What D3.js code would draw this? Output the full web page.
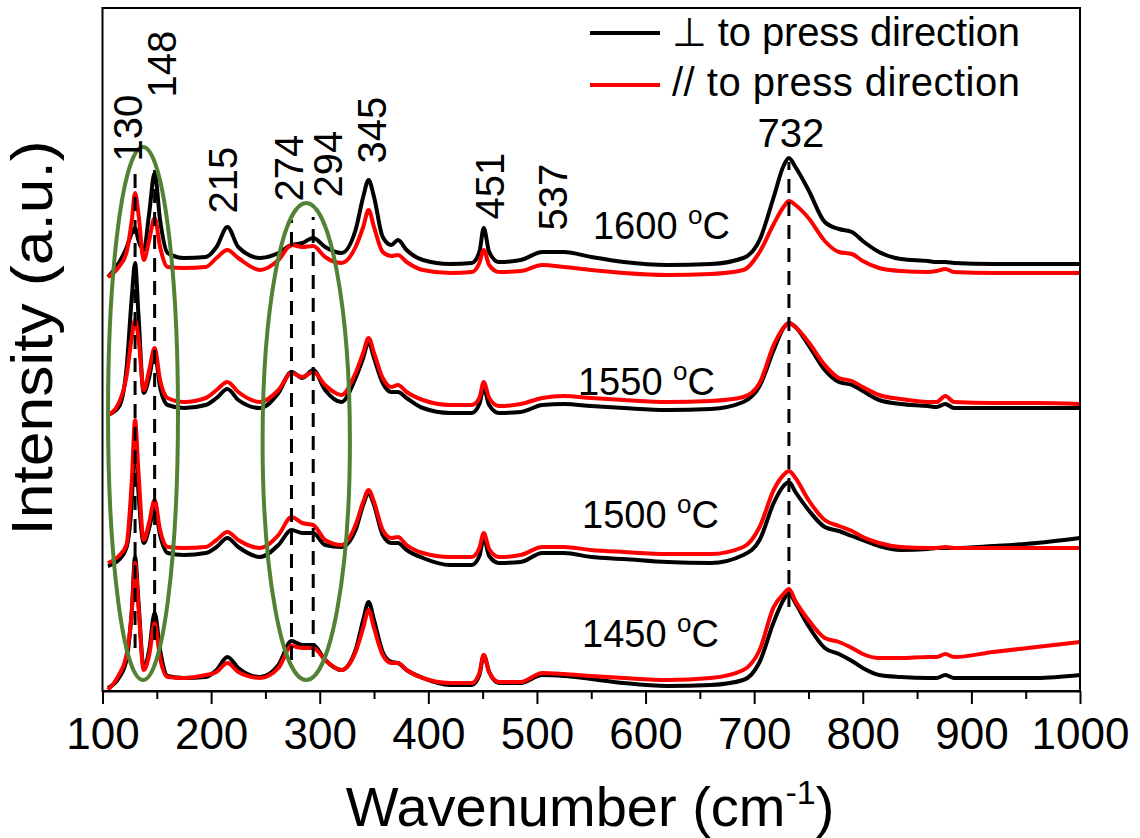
<!DOCTYPE html>
<html>
<head>
<meta charset="utf-8">
<script src="https://cdn.jsdelivr.net/npm/d3@7"></script>
<style>
  body { margin: 0; background: #fff; }
  text { font-family: "Liberation Sans", Arial, sans-serif; fill: #000; }
</style>
</head>
<body>
<div class="canva"></div>
<script>
// Raman shift grid (cm-1) shared by every spectrum
const wavenumber = [105, 115, 122, 127, 130, 133, 138, 143, 148, 153, 160, 175, 195, 205, 215, 225, 245, 262, 274, 284,
  294, 305, 320, 333, 340, 345, 350, 358, 366, 372, 380, 395, 420, 440, 447, 451, 456, 465, 485, 505,
  525, 550, 580, 620, 660, 690, 705, 718, 727, 732, 738, 750, 765, 778, 790, 800, 815, 835, 860, 868,
  876, 884, 920, 960, 1000];

// intensities (a.u., already offset per temperature), perpendicular = black, parallel = red
const perp1600 = [414, 428, 443, 458, 463, 451, 441, 478, 518, 471, 438, 433, 434, 444, 464, 444, 433, 438, 446, 448,
  453, 444, 438, 461, 494, 511, 494, 454, 446, 451, 441, 431, 427, 428, 439, 463, 439, 429, 431, 439,
  439, 434, 429, 426, 427, 433, 451, 494, 525, 533, 524, 501, 469, 462, 459, 450, 439, 432, 430, 429,
  429, 428, 427, 427, 427];
const para1600 = [414, 424, 438, 471, 498, 478, 431, 451, 473, 444, 424, 423, 424, 433, 441, 433, 421, 431, 446, 444,
  445, 434, 428, 444, 464, 481, 464, 439, 435, 436, 429, 421, 418, 419, 428, 441, 426, 419, 420, 426,
  424, 421, 418, 416, 417, 421, 439, 467, 484, 490, 486, 473, 450, 439, 437, 430, 423, 420, 419, 420,
  422, 419, 418, 418, 418];
const perp1550 = [276, 284, 321, 394, 428, 378, 298, 314, 338, 304, 286, 283, 286, 293, 302, 291, 283, 298, 319, 313,
  321, 301, 289, 313, 333, 349, 333, 308, 299, 299, 293, 283, 278, 278, 287, 303, 286, 278, 279, 286,
  287, 285, 283, 281, 282, 289, 305, 341, 363, 368, 364, 346, 321, 309, 306, 300, 291, 287, 285, 284,
  287, 283, 283, 283, 283];
const para1550 = [276, 288, 314, 354, 371, 354, 301, 321, 343, 311, 293, 289, 293, 301, 309, 299, 289, 301, 318, 314,
  319, 306, 296, 318, 338, 353, 338, 313, 304, 306, 299, 291, 286, 286, 293, 309, 293, 285, 287, 293,
  295, 293, 291, 289, 290, 294, 308, 346, 363, 368, 364, 349, 326, 313, 310, 304, 296, 292, 289, 289,
  295, 289, 288, 288, 287];
const perp1500 = [125, 131, 143, 191, 259, 201, 148, 163, 184, 156, 138, 136, 138, 144, 153, 144, 134, 146, 161, 158,
  158, 146, 144, 161, 186, 198, 186, 156, 148, 148, 141, 133, 126, 126, 135, 153, 135, 128, 129, 138,
  138, 134, 132, 129, 128, 136, 151, 188, 205, 209, 199, 181, 164, 160, 155, 151, 145, 141, 142, 143,
  143, 143, 145, 148, 153];
const para1500 = [128, 135, 146, 211, 271, 221, 151, 169, 191, 161, 144, 143, 144, 151, 159, 151, 143, 156, 174, 168,
  166, 151, 146, 166, 189, 201, 189, 161, 153, 154, 146, 138, 134, 134, 143, 158, 142, 134, 136, 144,
  144, 141, 139, 137, 137, 144, 164, 201, 216, 220, 213, 191, 171, 165, 160, 154, 148, 144, 143, 143,
  144, 143, 143, 143, 143];
const perp1450 = [3, 13, 31, 81, 134, 91, 23, 41, 78, 41, 15, 13, 14, 21, 34, 23, 14, 26, 50, 46,
  46, 31, 21, 41, 71, 89, 71, 39, 29, 28, 21, 13, 6, 6, 16, 36, 19, 8, 8, 16,
  15, 12, 8, 5, 6, 11, 29, 69, 91, 98, 88, 65, 43, 37, 30, 23, 16, 14, 13, 13,
  16, 13, 13, 13, 16];
const para1450 = [1, 16, 36, 79, 128, 86, 21, 36, 68, 33, 14, 13, 16, 19, 28, 19, 13, 23, 45, 43,
  43, 31, 21, 39, 63, 81, 63, 36, 28, 28, 21, 13, 8, 8, 18, 36, 19, 9, 9, 18,
  17, 15, 13, 11, 13, 21, 41, 84, 97, 102, 90, 71, 53, 49, 43, 37, 33, 33, 34, 34,
  37, 34, 39, 44, 49];

const temperatures = ["1600", "1550", "1500", "1450"];
const peakLabels = ["130", "148", "215", "274", "294", "345", "451", "537"];
const dashedPeaks = [130, 148, 274, 294, 732];
const xTicks = [100, 200, 300, 400, 500, 600, 700, 800, 900, 1000];
const xMinorTicks = [150, 250, 350, 450, 550, 650, 750, 850, 950];
const legendNames = ["\u22A5 to press direction", "// to press direction"];

// layout of annotations, in data units [wavenumber, a.u.]
const tempLabelPos = [[551.6, 452], [537.8, 296], [541.5, 163], [541.5, 44]];
const peakLabelPos = [[123.5, 563], [154.8, 627], [210.5, 511], [271.7, 523], [307.2, 527], [348.1, 561], [456.3, 505], [514.3, 494]];
const dashedSpan = [[43, 524], [51, 521], [31, 471], [34, 474], [84, 529]];
const circles = [[137.3, 32.2, 277.5, 266.5], [287.6, 40.2, 249.5, 238.5]];

const spectra = [
  {temp: temperatures[0], perp: perp1600, para: para1600},
  {temp: temperatures[1], perp: perp1550, para: para1550},
  {temp: temperatures[2], perp: perp1500, para: para1500},
  {temp: temperatures[3], perp: perp1450, para: para1450}
];

const svg = d3.select(".canva").append("svg")
    .attr("width", 1140)
    .attr("height", 838);

const x = d3.scaleLinear().domain([100, 1000]).range([102.5, 1080]);
const y = d3.scaleLinear().domain([0, 683]).range([691, 8]);

const line = d3.line()
    .x((d, i) => x(wavenumber[i]))
    .y(d => y(d))
    .curve(d3.curveMonotoneX);

// spectra
const plot = svg.append("g");
spectra.forEach(s => {
  plot.append("path").attr("d", line(s.perp))
      .attr("fill", "none").attr("stroke", "#000").attr("stroke-width", 4)
      .attr("stroke-linejoin", "round");
  plot.append("path").attr("d", line(s.para))
      .attr("fill", "none").attr("stroke", "#ff0000").attr("stroke-width", 4)
      .attr("stroke-linejoin", "round");
});

// dashed peak markers
svg.selectAll(".dash")
    .data(dashedPeaks)
    .enter().append("line")
    .attr("x1", d => x(d)).attr("x2", d => x(d))
    .attr("y1", (d, i) => y(dashedSpan[i][0]))
    .attr("y2", (d, i) => y(dashedSpan[i][1]))
    .attr("stroke", "#000").attr("stroke-width", 3)
    .attr("stroke-dasharray", "14,9");

// green ellipses
svg.selectAll(".circ")
    .data(circles)
    .enter().append("ellipse")
    .attr("cx", d => x(d[0]))
    .attr("rx", d => x(d[0] + d[1]) - x(d[0]))
    .attr("cy", d => y(d[2]))
    .attr("ry", d => y(0) - y(d[3]))
    .attr("fill", "none").attr("stroke", "#548235").attr("stroke-width", 4);

// frame
svg.append("rect")
    .attr("x", x(100)).attr("y", y(683))
    .attr("width", x(1000) - x(100)).attr("height", y(0) - y(683))
    .attr("fill", "none").attr("stroke", "#000").attr("stroke-width", 2);

// x axis
const xAxis = svg.append("g")
    .attr("transform", "translate(0," + y(0) + ")")
    .call(d3.axisBottom(x).tickValues(xTicks).tickFormat(d3.format("d"))
      .tickSize(13).tickPadding(14).tickSizeOuter(0));
xAxis.select(".domain").attr("stroke-width", 2);
xAxis.selectAll(".tick line").attr("stroke-width", 2);
xAxis.selectAll(".tick text").attr("font-size", 44).attr("font-family", "Liberation Sans, Arial, sans-serif");

const xMinor = svg.append("g")
    .attr("transform", "translate(0," + y(0) + ")")
    .call(d3.axisBottom(x).tickValues(xMinorTicks).tickSize(8).tickFormat("").tickSizeOuter(0));
xMinor.select(".domain").remove();
xMinor.selectAll(".tick line").attr("stroke-width", 2);

// axis titles
const xt = svg.append("text")
    .attr("x", 590).attr("y", 826)
    .attr("text-anchor", "middle")
    .attr("font-size", 56);
xt.append("tspan").text("Wavenumber (cm");
xt.append("tspan").attr("font-size", 34).attr("dy", -22).text("-1");
xt.append("tspan").attr("dy", 22).text(")");

svg.append("text")
    .attr("transform", "translate(52," + 338 + ") rotate(-90)")
    .attr("text-anchor", "middle")
    .attr("font-size", 58)
    .attr("textLength", 395)
    .attr("lengthAdjust", "spacingAndGlyphs")
    .text("Intensity (a.u.)");

// peak labels
svg.selectAll(".peak")
    .data(peakLabels)
    .enter().append("text")
    .attr("transform", (d, i) => "translate(" + x(peakLabelPos[i][0]) + "," + y(peakLabelPos[i][1]) + ") rotate(-90)")
    .attr("text-anchor", "middle")
    .attr("dy", "0.36em")
    .attr("font-size", 40)
    .text(d => d);

svg.append("text")
    .attr("x", x(733.9)).attr("y", y(544))
    .attr("text-anchor", "middle")
    .attr("font-size", 40)
    .text("732");

// temperature labels
spectra.forEach((s, i) => {
  const t = svg.append("text")
      .attr("x", x(tempLabelPos[i][0])).attr("y", y(tempLabelPos[i][1]))
      .attr("font-size", 38);
  t.append("tspan").text(s.temp + " ");
  t.append("tspan").attr("font-size", 26).attr("dy", -15).text("o");
  t.append("tspan").attr("dy", 15).text("C");
});

// legend
const legend = svg.append("g");
legendNames.forEach((name, i) => {
  legend.append("line")
      .attr("x1", 590).attr("x2", 660)
      .attr("y1", 33 + i * 52).attr("y2", 33 + i * 52)
      .attr("stroke", i === 0 ? "#000" : "#ff0000")
      .attr("stroke-width", 4);
  legend.append("text")
      .attr("x", 672).attr("y", 46 + i * 50)
      .attr("font-size", 40)
      .attr("textLength", 348)
      .attr("lengthAdjust", "spacing")
      .text(name);
});
</script>
</body>
</html>
